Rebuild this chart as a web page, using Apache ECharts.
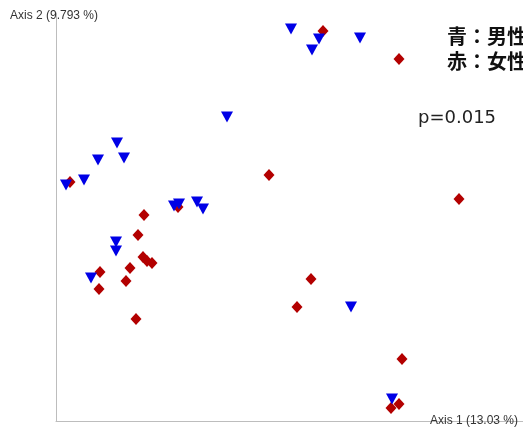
<!DOCTYPE html>
<html>
<head>
<meta charset="utf-8">
<script src="https://cdn.jsdelivr.net/npm/echarts@6/dist/echarts.min.js"></script>
<style>
html,body{margin:0;padding:0;background:#fff;}
#chart{width:523px;height:428px;}
</style>
</head>
<body>
<div id="chart"></div>
<script>
// PCoA coordinates (arbitrary units)
const maleX = [10, 28, 42, 61, 68, 118, 123, 141, 147, 60, 60, 35, 235, 263, 256, 304, 171, 295, 336];
const maleY = [236, 241, 261, 278, 263, 215, 217, 219, 212, 179, 170, 143, 392, 382, 371, 383, 304, 114, 22];
const femaleX = [14, 88, 122, 82, 87, 91, 96, 44, 74, 70, 43, 80, 267, 343, 213, 403, 255, 241, 346, 343, 335];
const femaleY = [239, 206, 214, 186, 164, 160, 158, 149, 153, 140, 132, 102, 390, 362, 246, 222, 142, 114, 62, 17, 13];
const xAxisName = 'Axis 1 (13.03 %)';
const yAxisName = 'Axis 2 (9.793 %)';
const legendLines = ['青：男性', '赤：女性'];
const pText = 'p=0.015';

const chart = echarts.init(document.getElementById('chart'));
const pair = (xs, ys) => xs.map((x, i) => [x, ys[i]]);
chart.setOption({
  animation: false,
  backgroundColor: '#fff',
  grid: {left: 56, right: 0, top: 13, bottom: 7},
  xAxis: {
    type: 'value', min: 0, max: 467,
    axisLine: {show: true, onZero: false, lineStyle: {color: '#bdbdbd', width: 1}},
    axisTick: {show: false}, axisLabel: {show: false}, splitLine: {show: false}
  },
  yAxis: {
    type: 'value', min: 0, max: 408,
    axisLine: {show: true, onZero: false, lineStyle: {color: '#bdbdbd', width: 1}},
    axisTick: {show: false}, axisLabel: {show: false}, splitLine: {show: false}
  },
  series: [
    {
      name: '女性', type: 'scatter', data: pair(femaleX, femaleY),
      symbol: 'diamond', symbolSize: [11, 12],
      itemStyle: {color: '#b30000', opacity: 1}, z: 3
    },
    {
      name: '男性', type: 'scatter', data: pair(maleX, maleY),
      symbol: 'triangle', symbolRotate: 180, symbolSize: [12, 11],
      itemStyle: {color: '#0000e6', opacity: 1}, z: 4
    }
  ],
  graphic: [
    {type: 'text', left: 10, top: 10, z: 10,
     style: {text: yAxisName, font: '12px "Liberation Sans", Arial, sans-serif', fill: '#333'}},
    {type: 'text', left: 430, top: 415, z: 10,
     style: {text: xAxisName, font: '12px "Liberation Sans", Arial, sans-serif', fill: '#333'}},
    {type: 'text', x: 447, y: 24, z: 10,
     style: {text: legendLines.join('\n'), font: 'bold 20px "Noto Sans CJK JP", sans-serif', fill: '#111', lineHeight: 25}},
    {type: 'text', x: 418, y: 109, z: 10,
     style: {text: pText, font: '18px "DejaVu Sans", sans-serif', fill: '#222'}}
  ]
});
</script>
</body>
</html>
